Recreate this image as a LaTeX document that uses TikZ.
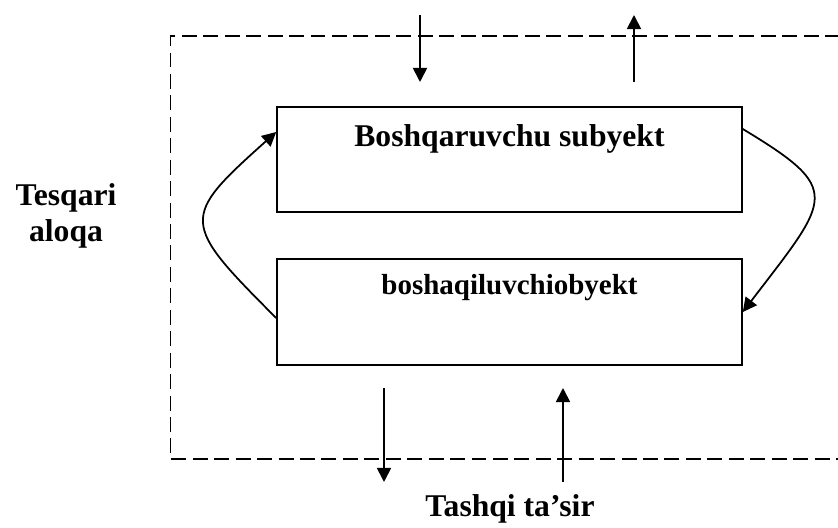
\documentclass[tikz,border=0pt]{standalone}
\usepackage{fontspec}
\setmainfont{Liberation Serif}
\usetikzlibrary{arrows.meta, calc}
\tikzset{
  block/.style={
    draw, line width=0.9pt, minimum width=9.3cm, inner ysep=0pt,
    font=\fontsize{18}{21}\selectfont\bfseries
  },
  flow/.style={draw, -{Triangle[length=8pt, width=8pt]}, line width=1pt},
  bound/.style={draw, line width=1.1pt, dash pattern=on 8.5pt off 3.7pt},
  caption/.style={font=\fontsize{18}{21}\selectfont\bfseries, align=center},
}

\begin{document}
\begin{tikzpicture}
  \useasboundingbox (0,0) rectangle (16.76,10.56);

  % Boundary
  \draw[bound] (16.8,9.84) -- (3.41,9.84) -- (3.41,1.38) -- (16.8,1.38);

  % Blocks
  \node[block, text height=0.8cm, text depth=1.3cm] (sub) at (10.19,7.37) {Boshqaruvchu subyekt};
  \node[block, text height=0.72cm, text depth=1.4cm, font=\fontsize{16.5}{19}\selectfont\bfseries]
    (obj) at (10.19,4.32) {boshaqiluvchiobyekt};

  % Labels
  \node[caption, anchor=base] (fb) at (1.32,5.72) {Tesqari\\aloqa};
  \node[caption, anchor=base] (ext) at (10.2,0.22) {Tashqi ta’sir};

  % Top arrows
  \coordinate (inT) at (8.4,10.26);
  \coordinate (inB) at (8.4,8.92);
  \coordinate (outB) at (12.68,8.92);
  \coordinate (outT) at (12.68,10.26);
  \draw[flow] (inT) -- (inB);
  \draw[flow] (outB) -- (outT);

  % Bottom arrows
  \coordinate (resT) at (7.68,2.8);
  \coordinate (resB) at (7.68,0.92);
  \coordinate (extB) at (11.26,0.92);
  \coordinate (extT) at (11.26,2.8);
  \draw[flow] (resT) -- (resB);
  \draw[flow] (extB) -- (extT);

  % Loop
  \draw[flow] ($(obj.west)+(0,-0.12)$) .. controls +(-1.92,1.92) and +(-1.92,-1.72) .. ($(sub.west)+(0,0.55)$);
  \draw[flow] ($(sub.east)+(0,0.61)$) .. controls +(2.02,-1.22) and +(1.76,2.3) .. (obj.east);

\end{tikzpicture}
\end{document}
